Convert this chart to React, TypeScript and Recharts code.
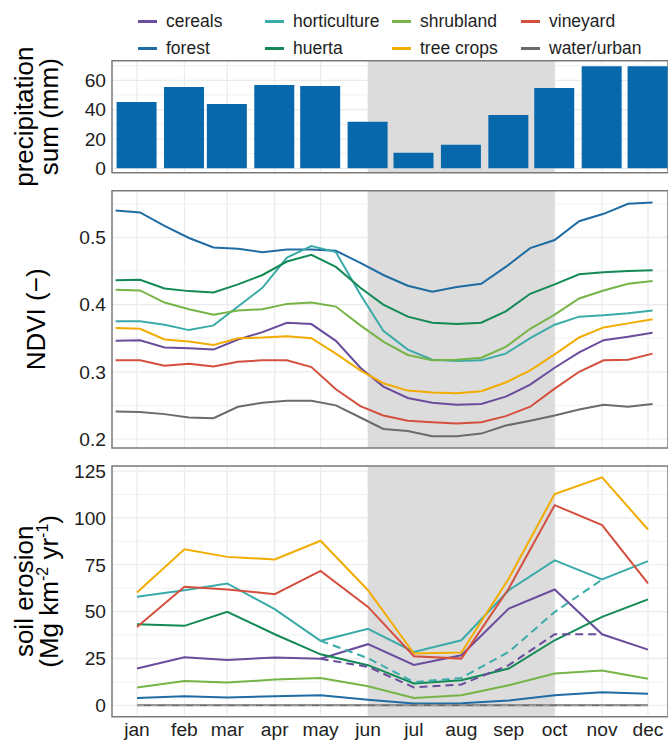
import React from 'react';
import {
  BarChart,
  Bar,
  LineChart,
  Line,
  XAxis,
  YAxis,
  CartesianGrid,
  ReferenceArea,
  Legend,
} from 'recharts';

const FONT = '"Liberation Sans", Arial, Helvetica, sans-serif';

// ---------- shared x axis (day of year) ----------
const monthLabels = ['jan', 'feb', 'mar', 'apr', 'may', 'jun', 'jul', 'aug', 'sep', 'oct', 'nov', 'dec'];
const monthDays = [0, 31, 59, 90, 120, 151, 181, 212, 243, 273, 304, 334];
const dryStart = 151;
const dryEnd = 273;

// ---------- land uses ----------
const landUseNames = ['cereals', 'forest', 'horticulture', 'huerta', 'shrubland', 'tree crops', 'vineyard', 'water/urban'];
const landUseKeys = ['cereals', 'forest', 'horticulture', 'huerta', 'shrubland', 'treeCrops', 'vineyard', 'waterUrban'];
const landUseColors = ['#6A4C9C', '#1F6CA3', '#3BABA9', '#138A55', '#76B447', '#F2AC00', '#D44F3E', '#6B6B6B'];

// ---------- precipitation (monthly sum, mm) ----------
const precipitation = [45.2, 55.4, 43.9, 56.8, 56.1, 31.7, 10.6, 16.1, 36.4, 54.7, 69.6, 69.6];
const precipTicks = [0, 20, 40, 60];
const precipMinor = [10, 30, 50, 70];

// ---------- NDVI (16-day composites) ----------
const ndviDays = [-14, 2, 18, 34, 50, 66, 82, 98, 114, 130, 146, 161, 177, 193, 209, 225, 241, 257, 273, 289, 305, 321, 337];
const ndviCereals = [0.346, 0.347, 0.336, 0.335, 0.333, 0.348, 0.359, 0.373, 0.371, 0.346, 0.306, 0.278, 0.261, 0.254, 0.251, 0.252, 0.263, 0.281, 0.306, 0.329, 0.347, 0.352, 0.358];
const ndviForest = [0.540, 0.537, 0.517, 0.499, 0.485, 0.483, 0.478, 0.482, 0.482, 0.480, 0.462, 0.444, 0.428, 0.419, 0.426, 0.431, 0.456, 0.484, 0.496, 0.524, 0.535, 0.550, 0.552];
const ndviHorticulture = [0.375, 0.375, 0.370, 0.362, 0.369, 0.397, 0.425, 0.470, 0.487, 0.478, 0.415, 0.361, 0.333, 0.318, 0.316, 0.317, 0.327, 0.350, 0.370, 0.382, 0.384, 0.387, 0.391];
const ndviHuerta = [0.436, 0.437, 0.424, 0.420, 0.418, 0.430, 0.444, 0.464, 0.474, 0.456, 0.425, 0.400, 0.382, 0.373, 0.371, 0.373, 0.390, 0.416, 0.430, 0.445, 0.448, 0.450, 0.451];
const ndviShrubland = [0.422, 0.421, 0.403, 0.393, 0.385, 0.391, 0.393, 0.401, 0.403, 0.397, 0.369, 0.345, 0.325, 0.317, 0.318, 0.321, 0.337, 0.364, 0.385, 0.409, 0.421, 0.431, 0.435];
const ndviTreeCrops = [0.365, 0.364, 0.348, 0.345, 0.340, 0.350, 0.351, 0.353, 0.350, 0.327, 0.302, 0.283, 0.272, 0.269, 0.268, 0.271, 0.284, 0.302, 0.326, 0.351, 0.366, 0.372, 0.378];
const ndviVineyard = [0.317, 0.317, 0.309, 0.312, 0.308, 0.315, 0.317, 0.317, 0.307, 0.274, 0.249, 0.235, 0.227, 0.225, 0.223, 0.225, 0.234, 0.248, 0.275, 0.300, 0.317, 0.318, 0.327];
const ndviWaterUrban = [0.241, 0.240, 0.237, 0.232, 0.231, 0.248, 0.254, 0.257, 0.257, 0.250, 0.232, 0.215, 0.212, 0.204, 0.204, 0.208, 0.220, 0.227, 0.235, 0.244, 0.251, 0.248, 0.252];
const ndviTicks = [0.2, 0.3, 0.4, 0.5];
const ndviMinor = [0.25, 0.35, 0.45, 0.55];

// ---------- soil erosion (Mg km-2 yr-1, monthly) ----------
const erosionCereals = [19.6, 25.6, 24.2, 25.5, 24.8, 32.6, 21.5, 26.7, 51.6, 61.8, 37.9, 29.7];
const erosionForest = [3.9, 4.8, 4.1, 4.8, 5.3, 3.0, 0.9, 1.1, 2.5, 5.3, 6.9, 6.1];
const erosionHorticulture = [57.9, 61.4, 65.0, 51.3, 34.4, 40.8, 28.5, 34.7, 61.4, 77.3, 67.1, 76.9];
const erosionHuerta = [43.3, 42.4, 49.9, 37.9, 27.2, 21.4, 11.6, 13.4, 19.6, 34.7, 47.2, 56.5];
const erosionShrubland = [9.5, 13.0, 12.1, 13.7, 14.6, 10.1, 3.9, 5.3, 10.7, 16.9, 18.5, 14.2];
const erosionTreeCrops = [60.2, 83.2, 79.2, 77.8, 87.8, 61.4, 27.6, 28.1, 67.7, 112.7, 121.6, 93.8];
const erosionVineyard = [41.8, 63.2, 61.8, 59.3, 71.7, 52.5, 26.2, 24.9, 62.3, 106.8, 96.2, 65.0];
const erosionWaterUrban = [0, 0, 0, 0, 0, 0, 0, 0, 0, 0, 0, 0];
const erosionCerealsDashed = [null, null, null, null, 24.8, 20.5, 9.5, 11.1, 21.4, 37.9, 37.9, null];
const erosionHorticultureDashed = [null, null, null, null, 34.4, 25.1, 12.4, 14.6, 28.5, 49.8, 67.1, null];
const erosionWaterUrbanDashed = [0, 0, 0, 0, 0, 0, 0, 0, 0, 0, 0, 0];
const erosionTicks = [0, 25, 50, 75, 100, 125];
const erosionMinor = [12.5, 37.5, 62.5, 87.5, 112.5];

// ---------- tables ----------
const ndviSeries = [ndviCereals, ndviForest, ndviHorticulture, ndviHuerta, ndviShrubland, ndviTreeCrops, ndviVineyard, ndviWaterUrban];
const erosionSeries = [erosionCereals, erosionForest, erosionHorticulture, erosionHuerta, erosionShrubland, erosionTreeCrops, erosionVineyard, erosionWaterUrban];

const precipData = monthDays.map((day, i) => ({ day, precipitation: precipitation[i] }));
const ndviData = ndviDays.map((day, i) => {
  const row: any = { day };
  landUseKeys.forEach((k, j) => (row[k] = ndviSeries[j][i]));
  return row;
});
const erosionData = monthDays.map((day, i) => {
  const row: any = { day };
  landUseKeys.forEach((k, j) => (row[k] = erosionSeries[j][i]));
  row.cerealsAlt = erosionCerealsDashed[i];
  row.horticultureAlt = erosionHorticultureDashed[i];
  row.waterUrbanAlt = erosionWaterUrbanDashed[i];
  return row;
});

// ---------- layout constants ----------
const W = 668;
const X_DOMAIN: [number, number] = [-16.34, 347.08];
const PRECIP_DOMAIN: [number, number] = [-3.0, 73.4];
const NDVI_DOMAIN: [number, number] = [0.1866, 0.5694];
const EROSION_DOMAIN: [number, number] = [-6.1, 127.7];
const GRID_COLOR = '#EBEBEB';
const BORDER_COLOR = '#7A7A7A';
const SHADE = '#DCDCDC';
const tickStyle = { fontSize: 19.2, fill: '#1E1E1E', fontFamily: FONT };

function AxisTitle(props: any) {
  const { viewBox, lines, xs, center } = props;
  const cy = viewBox && typeof viewBox.y === 'number' ? viewBox.y + viewBox.height / 2 : center;
  return (
    <g>
      {lines.map((ln: any, i: number) => (
        <text
          key={i}
          x={xs[i]}
          y={cy}
          transform={`rotate(-90 ${xs[i]} ${cy})`}
          textAnchor="middle"
          fontSize={26}
          fill="#000"
          fontFamily={FONT}
        >
          {ln}
        </text>
      ))}
    </g>
  );
}

function LegendBox() {
  const colX = [138, 265, 392, 521];
  const rowY = [15.8, 42.8];
  return (
    <div style={{ position: 'relative', width: W, height: 55, fontFamily: FONT }}>
      {landUseNames.map((name, i) => {
        const col = Math.floor(i / 2);
        const row = i % 2;
        return (
          <div
            key={name}
            style={{
              position: 'absolute',
              left: colX[col],
              top: rowY[row] - 10,
              height: 20,
              display: 'flex',
              alignItems: 'center',
              whiteSpace: 'nowrap',
            }}
          >
            <div style={{ width: 19, height: 2.6, background: landUseColors[i], marginRight: 9 }} />
            <span style={{ fontSize: 17.5, lineHeight: '20px', color: '#1E1E1E' }}>{name}</span>
          </div>
        );
      })}
    </div>
  );
}

const monthFormatter = (d: number) => {
  const idx = monthDays.indexOf(d);
  return idx >= 0 ? monthLabels[idx] : '';
};

export default function App() {
  return (
    <div style={{ position: 'absolute', left: 0, top: 0, width: W, height: 740, background: '#fff', fontFamily: FONT, overflow: 'hidden' }}>
      {/* precipitation */}
      <div style={{ position: 'absolute', left: 0, top: 0 }}>
        <BarChart width={W} height={196} data={precipData} margin={{ top: 5.7, right: 0, bottom: 23.3, left: 0 }}>
          <CartesianGrid horizontalValues={precipMinor} vertical={false} stroke={GRID_COLOR} strokeWidth={0.7} />
          <CartesianGrid horizontalValues={precipTicks} verticalValues={monthDays} stroke={GRID_COLOR} strokeWidth={1.2} />
          <XAxis dataKey="day" type="number" domain={X_DOMAIN} ticks={monthDays} hide allowDataOverflow />
          <YAxis
            type="number"
            domain={PRECIP_DOMAIN}
            ticks={precipTicks}
            interval={0}
            width={112}
            axisLine={false}
            tickLine={false}
            tickSize={4}
            tickMargin={2}
            tick={tickStyle}
            allowDataOverflow
            label={<AxisTitle lines={['precipitation', 'sum (mm)']} xs={[33, 58]} center={116.7} />}
          />
          <Legend verticalAlign="top" align="left" height={55} content={() => <LegendBox />} />
          <ReferenceArea x1={dryStart} x2={dryEnd} fill={SHADE} fillOpacity={1} stroke="none" ifOverflow="visible" />
          <Bar dataKey="precipitation" fill="#0868AC" barSize={40} isAnimationActive={false} />
          <ReferenceArea
            x1={X_DOMAIN[0]}
            x2={X_DOMAIN[1]}
            y1={PRECIP_DOMAIN[0]}
            y2={PRECIP_DOMAIN[1]}
            fill="none"
            stroke={BORDER_COLOR}
            strokeWidth={1.5}
            ifOverflow="visible"
          />
        </BarChart>
      </div>

      {/* NDVI */}
      <div style={{ position: 'absolute', left: 0, top: 186 }}>
        <LineChart width={W} height={267} data={ndviData} margin={{ top: 4.7, right: 0, bottom: 5, left: 0 }}>
          <CartesianGrid horizontalValues={ndviMinor} vertical={false} stroke={GRID_COLOR} strokeWidth={0.7} />
          <CartesianGrid horizontalValues={ndviTicks} verticalValues={monthDays} stroke={GRID_COLOR} strokeWidth={1.2} />
          <XAxis dataKey="day" type="number" domain={X_DOMAIN} ticks={monthDays} hide allowDataOverflow />
          <YAxis
            type="number"
            domain={NDVI_DOMAIN}
            ticks={ndviTicks}
            interval={0}
            width={112}
            axisLine={false}
            tickLine={false}
            tickSize={4}
            tickMargin={2}
            tick={tickStyle}
            tickFormatter={(v: number) => v.toFixed(1)}
            allowDataOverflow
            label={<AxisTitle lines={['NDVI (\u2212)']} xs={[45]} center={133} />}
          />
          <ReferenceArea x1={dryStart} x2={dryEnd} fill={SHADE} fillOpacity={1} stroke="none" ifOverflow="visible" />
          {landUseKeys.map((k, j) => (
            <Line
              key={k}
              type="linear"
              dataKey={k}
              name={landUseNames[j]}
              stroke={landUseColors[j]}
              strokeWidth={2}
              dot={false}
              activeDot={false}
              isAnimationActive={false}
            />
          ))}
          <ReferenceArea
            x1={X_DOMAIN[0]}
            x2={X_DOMAIN[1]}
            y1={NDVI_DOMAIN[0]}
            y2={NDVI_DOMAIN[1]}
            fill="none"
            stroke={BORDER_COLOR}
            strokeWidth={1.5}
            ifOverflow="visible"
          />
        </LineChart>
      </div>

      {/* soil erosion */}
      <div style={{ position: 'absolute', left: 0, top: 460 }}>
        <LineChart width={W} height={280} data={erosionData} margin={{ top: 6, right: 0, bottom: 0, left: 0 }}>
          <CartesianGrid horizontalValues={erosionMinor} vertical={false} stroke={GRID_COLOR} strokeWidth={0.7} />
          <CartesianGrid horizontalValues={erosionTicks} verticalValues={monthDays} stroke={GRID_COLOR} strokeWidth={1.2} />
          <XAxis
            dataKey="day"
            type="number"
            domain={X_DOMAIN}
            ticks={monthDays}
            interval={0}
            height={23.3}
            axisLine={false}
            tickLine={false}
            tickSize={4}
            tickMargin={2}
            tick={tickStyle}
            tickFormatter={monthFormatter}
            allowDataOverflow
          />
          <YAxis
            type="number"
            domain={EROSION_DOMAIN}
            ticks={erosionTicks}
            interval={0}
            width={112}
            axisLine={false}
            tickLine={false}
            tickSize={4}
            tickMargin={2}
            tick={tickStyle}
            allowDataOverflow
            label={
              <AxisTitle
                lines={[
                  'soil erosion',
                  <>
                    <tspan>(Mg km</tspan>
                    <tspan dy={-10} fontSize={16}>-2</tspan>
                    <tspan dy={10}> yr</tspan>
                    <tspan dy={-10} fontSize={16}>-1</tspan>
                    <tspan dy={10}>)</tspan>
                  </>,
                ]}
                xs={[33, 58]}
                center={131}
              />
            }
          />
          <ReferenceArea x1={dryStart} x2={dryEnd} fill={SHADE} fillOpacity={1} stroke="none" ifOverflow="visible" />
          {landUseKeys.map((k, j) => (
            <Line
              key={k}
              type="linear"
              dataKey={k}
              name={landUseNames[j]}
              stroke={landUseColors[j]}
              strokeWidth={2}
              dot={false}
              activeDot={false}
              isAnimationActive={false}
            />
          ))}
          <Line type="linear" dataKey="waterUrbanAlt" stroke="#9A9A9A" strokeWidth={1.6} strokeDasharray="7 7" dot={false} activeDot={false} isAnimationActive={false} />
          <Line type="linear" dataKey="cerealsAlt" stroke={landUseColors[0]} strokeWidth={2} strokeDasharray="8 5" dot={false} activeDot={false} isAnimationActive={false} />
          <Line type="linear" dataKey="horticultureAlt" stroke={landUseColors[2]} strokeWidth={2} strokeDasharray="8 5" dot={false} activeDot={false} isAnimationActive={false} />
          <ReferenceArea
            x1={X_DOMAIN[0]}
            x2={X_DOMAIN[1]}
            y1={EROSION_DOMAIN[0]}
            y2={EROSION_DOMAIN[1]}
            fill="none"
            stroke={BORDER_COLOR}
            strokeWidth={1.5}
            ifOverflow="visible"
          />
        </LineChart>
      </div>
    </div>
  );
}
